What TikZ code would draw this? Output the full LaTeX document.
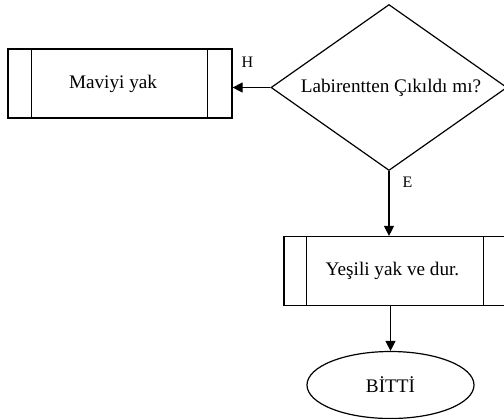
\documentclass[tikz,border=0pt]{standalone}
\usepackage{fontspec}
\setmainfont{Liberation Serif}
\usetikzlibrary{shapes.geometric,arrows.meta}
\begin{document}
\begin{tikzpicture}[x=1bp,y=-1bp,
  every node/.style={font=\fontsize{19.2bp}{22bp}\selectfont},
  proc/.style={draw,line width=1.2bp,rectangle,minimum width=222bp,minimum height=69bp,inner sep=0pt},
  dec/.style={draw,line width=1.2bp,diamond,aspect=1.42,minimum width=236bp,minimum height=166bp,inner sep=0pt},
  term/.style={draw,line width=1.2bp,ellipse,minimum width=167bp,minimum height=67bp,inner sep=0pt},
  lbl/.style={font=\fontsize{16bp}{18bp}\selectfont,inner sep=0pt},
  arr/.style={line width=1.2bp,-{Triangle[length=10bp,width=10bp]}},
  side/.style={line width=1.2bp}]
\useasboundingbox (0,0) rectangle (504,418);
\node[proc,minimum width=224bp] (mavi) at (120,83.5) {\hspace*{-14bp}Maviyi yak};
\draw[side] ([xshift=24bp]mavi.north west) -- ([xshift=24bp]mavi.south west);
\draw[side] ([xshift=-25bp]mavi.north east) -- ([xshift=-25bp]mavi.south east);
\node[dec] (dia) at (389,87.5) {\hspace*{4bp}Labirentten Çıkıldı mı?};
\node[proc] (yes) at (395,271) {\hspace*{-5bp}Yeşili yak ve dur.};
\draw[side] ([xshift=23bp]yes.north west) -- ([xshift=23bp]yes.south west);
\draw[side] ([xshift=-23bp]yes.north east) -- ([xshift=-23bp]yes.south east);
\node[term] (end) at (390.5,385) {BİTTİ};
\draw[arr] (dia.west) -- (dia.west -| mavi.east);
\draw[arr] (dia.south) -- (dia.south |- yes.north);
\draw[arr] (end.north |- yes.south) -- (end.north);
\node[lbl] (h) at (247.5,62) {H};
\node[lbl] (e) at (407.5,182) {E};
\end{tikzpicture}
\end{document}
